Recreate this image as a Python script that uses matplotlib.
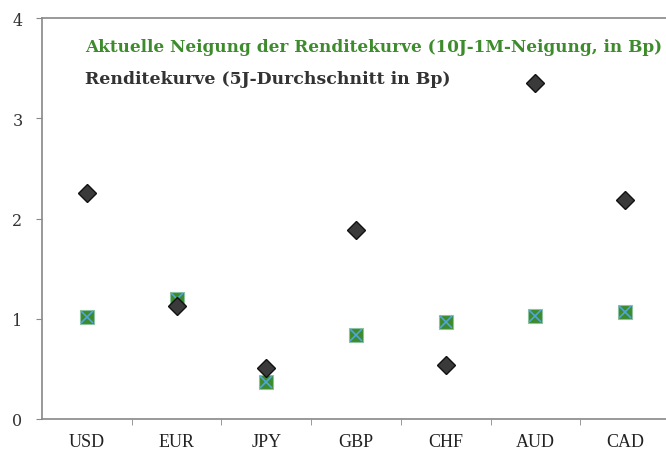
import matplotlib
matplotlib.use("Agg")
import matplotlib.pyplot as plt
import numpy as np

categories = ["USD", "EUR", "JPY", "GBP", "CHF", "AUD", "CAD"]
current_slope = [1.02, 1.20, 0.37, 0.84, 0.97, 1.03, 1.07]
avg_5y = [2.25, 1.13, 0.51, 1.89, 0.54, 3.35, 2.18]
yticks = [0, 1, 2, 3, 4]
label_current = "Aktuelle Neigung der Renditekurve (10J-1M-Neigung, in Bp)"
label_avg = "Renditekurve (5J-Durchschnitt in Bp)"

plt.rcParams['font.family'] = ['Liberation Serif', 'DejaVu Serif']

fig = plt.figure(figsize=(6.66, 4.52), dpi=100)
W, H = 666, 452
ax = fig.add_axes([42 / W, (H - 420) / H, (670 - 42) / W, (420 - 19) / H])

x = np.arange(len(categories))
green = "#3d8b2c"
ax.plot(x, current_slope, linestyle="none", marker="s", markersize=10,
        markerfacecolor=green, markeredgecolor="#8fc3a0", markeredgewidth=0.8, zorder=3)
ax.plot(x, current_slope, linestyle="none", marker="x", markersize=8.5,
        markeredgecolor="#4ea6dc", markeredgewidth=1.2, zorder=4)
ax.plot(x, avg_5y, linestyle="none", marker="D", markersize=9,
        markerfacecolor="#3a3a3a", markeredgecolor="#111111", markeredgewidth=1.0, zorder=5)

ax.set_xlim(-0.5, 6.5)
ax.set_ylim(0, 4)
ax.set_yticks(yticks)
ax.set_yticklabels([str(v) for v in yticks], fontsize=11.5, family="DejaVu Serif",
                   color="#333333")
ax.set_xticks(x)
ax.set_xticklabels(categories, fontsize=13, color="#222222")
ax.tick_params(axis="x", which="major", length=0, pad=10)
ax.set_xticks(np.arange(0.5, 6.5, 1), minor=True)
ax.tick_params(axis="x", which="minor", length=4, color="#888888", direction="out")
ax.tick_params(axis="y", length=4, color="#888888", direction="out", pad=10)

for side in ["left", "bottom", "top"]:
    ax.spines[side].set_color("#888888")
    ax.spines[side].set_linewidth(1.2)
ax.spines["right"].set_visible(False)

fig.text(85 / W, 1 - 48 / H, label_current, fontsize=12.2, fontweight="bold",
         family="DejaVu Serif", color=green, va="center", ha="left")
fig.text(85 / W, 1 - 80 / H, label_avg, fontsize=12.4, fontweight="bold",
         family="DejaVu Serif", color="#333333", va="center", ha="left")

fig.savefig("out.png", dpi=100)
